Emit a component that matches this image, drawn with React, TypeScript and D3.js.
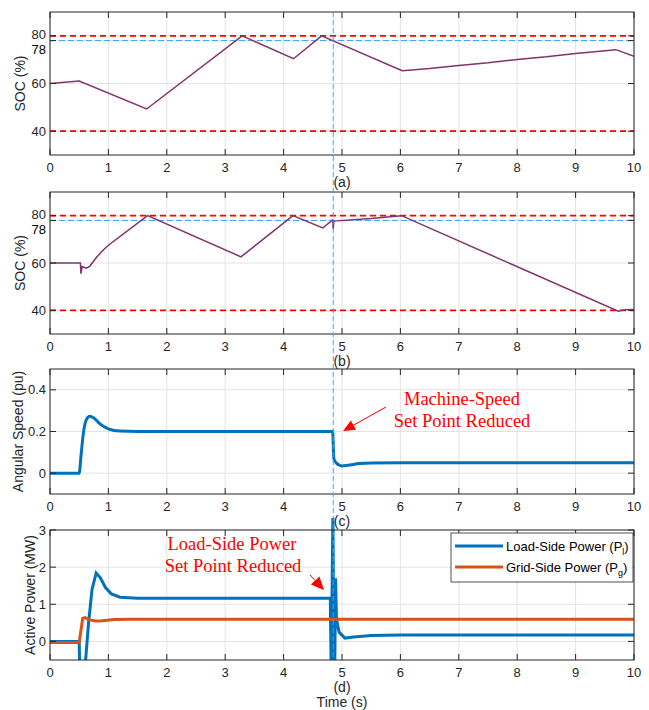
import React from "react";
import * as d3 from "d3";

// time axis
const timeTicks = [0, 1, 2, 3, 4, 5, 6, 7, 8, 9, 10];
const eventTime = 4.85;

// (a) SOC, first storage unit
const socA: [number, number][] = [
  [0, 60], [0.5, 61], [1.655, 49.3], [3.29, 80], [4.17, 70.4], [4.65, 80],
  [6.03, 65.4], [6.5, 66.3], [7, 67.6], [7.5, 68.7], [8, 70.1], [8.5, 71.2],
  [9, 72.6], [9.69, 74.2], [10, 71.4],
];

// (b) SOC, second storage unit
const socB: [number, number][] = [
  [0, 60], [0.52, 60], [0.53, 55.5], [0.55, 58.5], [0.62, 57.8], [0.68, 58.6],
  [0.8, 62.5], [0.9, 65.2], [1.0, 67.5], [1.67, 80], [3.27, 62.6], [4.16, 80],
  [4.67, 74.8], [4.82, 77.8], [4.84, 78.2], [4.85, 74.4], [4.86, 77.6], [4.9, 77.8],
  [5.5, 78.8], [6.02, 80], [9.73, 39.6], [9.85, 40.3], [10, 40.4],
];

const socTicks = [40, 60, 78, 80];
const socLimits = [40, 80];
const socRef = 78;

// (c) angular speed (pu)
const speed: [number, number][] = [
  [0, 0], [0.5, 0], [0.53, 0.08], [0.57, 0.19], [0.62, 0.255], [0.68, 0.273],
  [0.75, 0.265], [0.85, 0.238], [1.0, 0.213], [1.2, 0.202], [1.5, 0.2], [4.84, 0.2],
  [4.86, 0.07], [4.9, 0.05], [4.95, 0.039], [5.0, 0.035], [5.1, 0.038], [5.3, 0.046],
  [5.5, 0.049], [6, 0.05], [10, 0.05],
];
const speedTicks = [0, 0.2, 0.4];

// (d) active power (MW)
const loadPower: [number, number][] = [
  [0, 0], [0.5, 0], [0.51, -0.9], [0.58, -0.9], [0.61, -0.5], [0.66, 0.5],
  [0.72, 1.4], [0.79, 1.84], [0.86, 1.72], [0.95, 1.45], [1.05, 1.28], [1.2, 1.19],
  [1.5, 1.16], [4.8, 1.16], [4.815, -0.9], [4.845, 3.6], [4.86, -0.9], [4.875, -0.9],
  [4.89, 1.7], [4.905, 0.6], [4.95, 0.25], [5.05, 0.09], [5.2, 0.12], [5.5, 0.16],
  [6, 0.17], [10, 0.17],
];
const gridPower: [number, number][] = [
  [0, -0.03], [0.5, -0.03], [0.53, 0.3], [0.56, 0.62], [0.6, 0.64], [0.68, 0.58],
  [0.78, 0.55], [0.9, 0.56], [1.1, 0.59], [1.4, 0.6], [10, 0.6],
];
const powerTicks = [0, 1, 2, 3];

const W = 649;
const H = 710;
const left = 50;
const right = 634;
const FONT = "'Liberation Sans', Arial, Helvetica, sans-serif";
const SERIF = "'Liberation Serif', 'Times New Roman', serif";
const AX = "#262626";
const GRID = "#e3e3e3";
const SOC_COLOR = "#82336B";
const BLUE = "#0072BD";
const ORANGE = "#D95319";
const LIGHT_BLUE = "#33a3ff";

const x = d3.scaleLinear().domain([0, 10]).range([left, right]);

type PanelProps = {
  id: string;
  top: number;
  bottom: number;
  domain: [number, number];
  yTicks: number[];
  yLabel: string;
  yLabelX: number;
  tag: string;
  children: (y: d3.ScaleLinear<number, number>) => React.ReactNode;
  clipTop?: number;
};

function Panel({ id, top, bottom, domain, yTicks, yLabel, yLabelX, tag, children, clipTop }: PanelProps) {
  const y = d3.scaleLinear().domain(domain).range([bottom, top]);
  const tl = 6;
  const ct = clipTop ?? top;
  return (
    <g>
      <clipPath id={id}>
        <rect x={left} y={ct} width={right - left} height={bottom - ct} />
      </clipPath>
      {timeTicks.map((t) => (
        <line key={"gx" + t} x1={x(t)} x2={x(t)} y1={top} y2={bottom} stroke={GRID} strokeWidth={1} />
      ))}
      {yTicks.map((v) => (
        <line key={"gy" + v} x1={left} x2={right} y1={y(v)} y2={y(v)} stroke={GRID} strokeWidth={1} />
      ))}
      <g clipPath={`url(#${id})`}>{children(y)}</g>
      <rect x={left} y={top} width={right - left} height={bottom - top} fill="none" stroke={AX} strokeWidth={1} />
      {timeTicks.map((t) => (
        <g key={"tx" + t}>
          <line x1={x(t)} x2={x(t)} y1={bottom} y2={bottom - tl} stroke={AX} />
          <line x1={x(t)} x2={x(t)} y1={top} y2={top + tl} stroke={AX} />
          <text x={x(t)} y={bottom + 17} textAnchor="middle" fontSize={13} fill={AX}>{t}</text>
        </g>
      ))}
      {yTicks.map((v) => (
        <g key={"ty" + v}>
          <line x1={left} x2={left + tl} y1={y(v)} y2={y(v)} stroke={AX} />
          <line x1={right} x2={right - tl} y1={y(v)} y2={y(v)} stroke={AX} />
          <text
            x={left - 4}
            y={y(v) + (v === 78 ? 13.5 : v === 80 ? 3.5 : 4.5)}
            textAnchor="end"
            fontSize={13}
            fill={v === 78 ? "#000" : AX}
          >
            {v}
          </text>
        </g>
      ))}
      <text x={(left + right) / 2} y={bottom + 32} textAnchor="middle" fontSize={14} fill={AX}>{tag}</text>
      <text
        transform={`translate(${yLabelX},${(top + bottom) / 2}) rotate(-90)`}
        textAnchor="middle"
        fontSize={14}
        fill={AX}
      >
        {yLabel}
      </text>
    </g>
  );
}

const lineGen = (y: d3.ScaleLinear<number, number>, curve = d3.curveLinear) =>
  d3.line<[number, number]>().x((d) => x(d[0])).y((d) => y(d[1])).curve(curve);

function SocMarks({ y, data }: { y: d3.ScaleLinear<number, number>; data: [number, number][] }) {
  return (
    <g>
      {socLimits.map((v) => (
        <line key={v} x1={left} x2={right} y1={y(v)} y2={y(v)} stroke="#ff0000" strokeWidth={1.8} strokeDasharray="6,4" />
      ))}
      <line x1={left} x2={right} y1={y(socRef)} y2={y(socRef)} stroke={LIGHT_BLUE} strokeWidth={1} strokeDasharray="6,3" />
      <path d={lineGen(y)(data) || ""} fill="none" stroke={SOC_COLOR} strokeWidth={1.5} />
    </g>
  );
}

function Arrow({ x1, y1, x2, y2, head }: { x1: number; y1: number; x2: number; y2: number; head: number }) {
  const a = Math.atan2(y2 - y1, x2 - x1);
  const bx = x2 - head * Math.cos(a);
  const by = y2 - head * Math.sin(a);
  const w = head * 0.45;
  const px = -Math.sin(a) * w;
  const py = Math.cos(a) * w;
  return (
    <g>
      <line x1={x1} y1={y1} x2={bx} y2={by} stroke="#ff0000" strokeWidth={1} />
      <path d={`M${x2},${y2}L${bx + px},${by + py}L${bx - px},${by - py}Z`} fill="#ff0000" />
    </g>
  );
}

export default function App() {
  const legendX = 451;
  const legendY = 533;
  return (
    <div style={{ position: "absolute", left: 0, top: 0 }}>
      <svg width={W} height={H} fontFamily={FONT} style={{ display: "block", background: "#fff" }}>
        <Panel id="pa" top={12} bottom={155} domain={[30, 90]} yTicks={socTicks} yLabel="SOC (%)" yLabelX={25} tag="(a)">
          {(y) => <SocMarks y={y} data={socA} />}
        </Panel>
        <Panel id="pb" top={192} bottom={334} domain={[30, 90]} yTicks={socTicks} yLabel="SOC (%)" yLabelX={25} tag="(b)">
          {(y) => <SocMarks y={y} data={socB} />}
        </Panel>
        <Panel
          id="pc"
          top={369}
          bottom={494}
          domain={[-0.1, 0.5]}
          yTicks={speedTicks}
          yLabel="Angular Speed (pu)"
          yLabelX={23}
          tag="(c)"
        >
          {(y) => (
            <path d={lineGen(y, d3.curveMonotoneX)(speed) || ""} fill="none" stroke={BLUE} strokeWidth={3} />
          )}
        </Panel>
        <Panel
          id="pd"
          top={530}
          bottom={660}
          domain={[-0.5, 3]}
          yTicks={powerTicks}
          yLabel="Active Power (MW)"
          yLabelX={35}
          tag="(d)"
          clipTop={518}
        >
          {(y) => (
            <g>
              <path d={lineGen(y)(loadPower) || ""} fill="none" stroke={BLUE} strokeWidth={3} />
              <path d={lineGen(y)(gridPower) || ""} fill="none" stroke={ORANGE} strokeWidth={3} />
            </g>
          )}
        </Panel>

        {/* event marker across all panels */}
        <line x1={x(eventTime)} x2={x(eventTime)} y1={12} y2={660} stroke={LIGHT_BLUE} strokeWidth={1} strokeDasharray="5,3" />

        <text x={(left + right) / 2} y={707} textAnchor="middle" fontSize={14} fill={AX}>Time (s)</text>

        {/* annotations */}
        <g fontFamily={SERIF} fontSize={18.5} fill="#ff0000" textAnchor="middle">
          <text x={462} y={405}>Machine-Speed</text>
          <text x={462} y={427}>Set Point Reduced</text>
          <text x={232} y={550}>Load-Side Power</text>
          <text x={233} y={572}>Set Point Reduced</text>
        </g>
        <Arrow x1={386} y1={407} x2={343} y2={431} head={12} />
        <Arrow x1={310} y1={575} x2={324} y2={590} head={13} />

        {/* legend */}
        <g>
          <rect x={legendX} y={legendY} width={182} height={49} fill="#fff" stroke={AX} strokeWidth={0.8} />
          <line x1={455} x2={503} y1={546} y2={546} stroke={BLUE} strokeWidth={3} />
          <line x1={455} x2={503} y1={567} y2={567} stroke={ORANGE} strokeWidth={3} />
          <text x={506} y={550.5} fontSize={13} fill="#000">
            Load-Side Power (P<tspan fontSize={9} dy={4}>l</tspan><tspan dy={-4}>)</tspan>
          </text>
          <text x={506} y={571.5} fontSize={13} fill="#000">
            Grid-Side Power (P<tspan fontSize={9} dy={4}>g</tspan><tspan dy={-4}>)</tspan>
          </text>
        </g>
      </svg>
    </div>
  );
}
